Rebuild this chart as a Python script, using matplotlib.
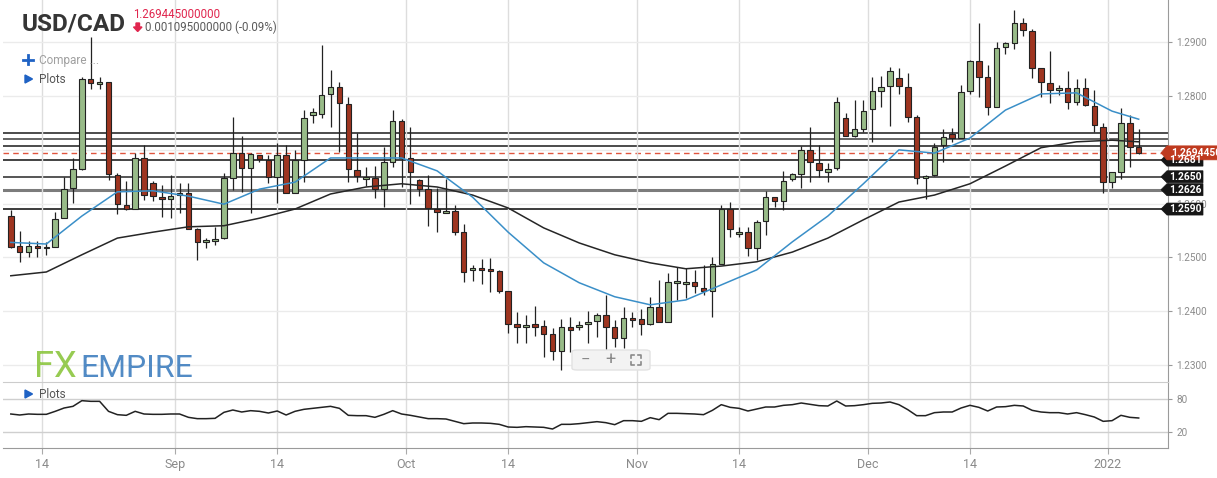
"""USD/CAD daily candles with moving averages, key levels and an RSI pane."""
import numpy as np
import pandas as pd
import matplotlib
matplotlib.use("Agg")
from matplotlib import pyplot as plt
from matplotlib import transforms
from matplotlib.patches import Polygon, FancyBboxPatch
from matplotlib.lines import Line2D

# ---------------------------------------------------------------- data
# daily bars (Sun-Fri feed), 2021-08-10 .. 2022-01-05
opens = [1.2577, 1.2521, 1.2510, 1.2521, 1.2517, 1.2519, 1.2573, 1.2629, 1.2664, 1.2832,
         1.2822, 1.2826, 1.2653, 1.2598, 1.2590, 1.2685, 1.2638, 1.2612, 1.2609, 1.2616,
         1.2620, 1.2553, 1.2529, 1.2530, 1.2536, 1.2648, 1.2694, 1.2666, 1.2690, 1.2681,
         1.2650, 1.2691, 1.2620, 1.2681, 1.2765, 1.2767, 1.2804, 1.2817, 1.2785, 1.2662,
         1.2646, 1.2648, 1.2627, 1.2677, 1.2754, 1.2685, 1.2644, 1.2627, 1.2590, 1.2583,
         1.2587, 1.2547, 1.2476, 1.2480, 1.2479, 1.2475, 1.2437, 1.2377, 1.2371, 1.2376,
         1.2372, 1.2357, 1.2326, 1.2371, 1.2370, 1.2376, 1.2382, 1.2393, 1.2371, 1.2350,
         1.2388, 1.2386, 1.2376, 1.2407, 1.2380, 1.2452, 1.2451, 1.2455, 1.2443, 1.2438,
         1.2488, 1.2590, 1.2544, 1.2547, 1.2517, 1.2567, 1.2612, 1.2605, 1.2646, 1.2655,
         1.2700, 1.2676, 1.2659, 1.2666, 1.2759, 1.2726, 1.2739, 1.2776, 1.2809, 1.2819,
         1.2834, 1.2817, 1.2761, 1.2647, 1.2653, 1.2709, 1.2729, 1.2722, 1.2809, 1.2865,
         1.2836, 1.2780, 1.2891, 1.2898, 1.2935, 1.2921, 1.2852, 1.2824, 1.2811, 1.2815,
         1.2789, 1.2815, 1.2781, 1.2742, 1.2640, 1.2659, 1.2750, 1.2705]
highs = [1.2588, 1.2549, 1.2530, 1.2530, 1.2528, 1.2584, 1.2650, 1.2685, 1.2835, 1.2910,
         1.2835, 1.2826, 1.2657, 1.2642, 1.2694, 1.2709, 1.2642, 1.2635, 1.2653, 1.2638,
         1.2638, 1.2555, 1.2536, 1.2556, 1.2657, 1.2761, 1.2726, 1.2694, 1.2690, 1.2691,
         1.2713, 1.2709, 1.2700, 1.2774, 1.2778, 1.2895, 1.2849, 1.2826, 1.2798, 1.2731,
         1.2668, 1.2670, 1.2705, 1.2774, 1.2757, 1.2742, 1.2646, 1.2653, 1.2629, 1.2646,
         1.2598, 1.2562, 1.2486, 1.2497, 1.2499, 1.2477, 1.2437, 1.2398, 1.2393, 1.2410,
         1.2384, 1.2368, 1.2386, 1.2389, 1.2381, 1.2400, 1.2396, 1.2430, 1.2384, 1.2408,
         1.2399, 1.2404, 1.2426, 1.2458, 1.2471, 1.2482, 1.2480, 1.2476, 1.2486, 1.2501,
         1.2597, 1.2603, 1.2556, 1.2556, 1.2569, 1.2624, 1.2612, 1.2661, 1.2657, 1.2707,
         1.2742, 1.2709, 1.2676, 1.2798, 1.2768, 1.2793, 1.2793, 1.2835, 1.2837, 1.2854,
         1.2852, 1.2843, 1.2765, 1.2653, 1.2713, 1.2739, 1.2741, 1.2820, 1.2867, 1.2936,
         1.2858, 1.2900, 1.2900, 1.2960, 1.2945, 1.2925, 1.2852, 1.2884, 1.2820, 1.2846,
         1.2831, 1.2833, 1.2811, 1.2750, 1.2659, 1.2778, 1.2765, 1.2739]
lows = [1.2517, 1.2492, 1.2501, 1.2501, 1.2505, 1.2519, 1.2573, 1.2601, 1.2662, 1.2813,
        1.2813, 1.2644, 1.2581, 1.2588, 1.2590, 1.2607, 1.2605, 1.2575, 1.2573, 1.2582,
        1.2553, 1.2495, 1.2517, 1.2523, 1.2534, 1.2626, 1.2622, 1.2583, 1.2678, 1.2639,
        1.2601, 1.2620, 1.2620, 1.2640, 1.2750, 1.2759, 1.2743, 1.2696, 1.2640, 1.2640,
        1.2633, 1.2610, 1.2594, 1.2668, 1.2631, 1.2600, 1.2614, 1.2559, 1.2547, 1.2583,
        1.2542, 1.2455, 1.2456, 1.2451, 1.2436, 1.2434, 1.2359, 1.2341, 1.2341, 1.2354,
        1.2315, 1.2309, 1.2291, 1.2324, 1.2365, 1.2341, 1.2352, 1.2326, 1.2334, 1.2332,
        1.2371, 1.2356, 1.2374, 1.2380, 1.2380, 1.2421, 1.2425, 1.2434, 1.2430, 1.2390,
        1.2488, 1.2538, 1.2538, 1.2502, 1.2495, 1.2542, 1.2594, 1.2588, 1.2642, 1.2629,
        1.2640, 1.2650, 1.2640, 1.2663, 1.2726, 1.2724, 1.2733, 1.2715, 1.2780, 1.2744,
        1.2804, 1.2752, 1.2636, 1.2609, 1.2651, 1.2678, 1.2715, 1.2722, 1.2804, 1.2798,
        1.2765, 1.2780, 1.2878, 1.2888, 1.2912, 1.2834, 1.2798, 1.2787, 1.2802, 1.2776,
        1.2783, 1.2781, 1.2733, 1.2620, 1.2629, 1.2646, 1.2668, 1.2692]
closes = [1.2519, 1.2510, 1.2521, 1.2517, 1.2519, 1.2571, 1.2627, 1.2664, 1.2832, 1.2824,
          1.2826, 1.2655, 1.2599, 1.2590, 1.2685, 1.2616, 1.2614, 1.2609, 1.2614, 1.2620,
          1.2553, 1.2529, 1.2533, 1.2534, 1.2647, 1.2694, 1.2666, 1.2692, 1.2683, 1.2650,
          1.2691, 1.2620, 1.2681, 1.2759, 1.2770, 1.2802, 1.2817, 1.2787, 1.2664, 1.2651,
          1.2650, 1.2627, 1.2677, 1.2754, 1.2685, 1.2659, 1.2627, 1.2592, 1.2584, 1.2587,
          1.2547, 1.2473, 1.2480, 1.2476, 1.2475, 1.2437, 1.2377, 1.2370, 1.2375, 1.2371,
          1.2357, 1.2326, 1.2371, 1.2366, 1.2374, 1.2380, 1.2393, 1.2371, 1.2350, 1.2387,
          1.2383, 1.2376, 1.2407, 1.2380, 1.2454, 1.2456, 1.2455, 1.2447, 1.2438, 1.2488,
          1.2590, 1.2553, 1.2548, 1.2517, 1.2565, 1.2612, 1.2605, 1.2642, 1.2655, 1.2700,
          1.2678, 1.2663, 1.2664, 1.2789, 1.2726, 1.2739, 1.2772, 1.2809, 1.2817, 1.2846,
          1.2819, 1.2761, 1.2647, 1.2651, 1.2706, 1.2724, 1.2722, 1.2807, 1.2865, 1.2836,
          1.2780, 1.2889, 1.2898, 1.2935, 1.2923, 1.2852, 1.2826, 1.2811, 1.2815, 1.2789,
          1.2815, 1.2783, 1.2746, 1.2640, 1.2659, 1.2750, 1.2705, 1.2694]

# moving averages read every 4th bar (plus the last bar)
ma_fast = [1.2528, 1.2525, 1.2577, 1.2622, 1.2624, 1.2614, 1.2599, 1.2627, 1.2640, 1.2685,
           1.2685, 1.2685, 1.2661, 1.2612, 1.2547, 1.2490, 1.2453, 1.2427, 1.2412, 1.2421,
           1.2449, 1.2477, 1.2529, 1.2577, 1.2637, 1.2700, 1.2694, 1.2722, 1.2774, 1.2804,
           1.2806, 1.2772, 1.2757]
ma_slow = [1.2466, 1.2473, 1.2505, 1.2536, 1.2547, 1.2557, 1.2559, 1.2573, 1.2590, 1.2618,
           1.2631, 1.2637, 1.2631, 1.2616, 1.2592, 1.2555, 1.2527, 1.2505, 1.2490, 1.2479,
           1.2484, 1.2492, 1.2510, 1.2536, 1.2570, 1.2603, 1.2616, 1.2637, 1.2670, 1.2704,
           1.2715, 1.2718, 1.2715]

rsi = [52.4, 50.6, 52.4, 51.8, 51.8, 57.2, 63.2, 66.2,
       76.4, 75.2, 75.2, 57.2, 51.2, 50.0, 57.2, 52.4, 51.8, 51.8, 52.4, 52.4, 46.4, 44.0,
       44.0, 44.6, 55.4, 59.6, 56.0, 58.4, 57.2, 54.2, 57.8, 50.6, 57.2,
       60.8, 62.6, 64.4, 66.2, 62.6, 50.0, 49.4, 49.4, 46.4, 51.8, 58.4, 52.4, 50.0, 47.0,
       44.0, 44.0, 43.4, 39.2, 35.0, 36.2, 36.2, 35.6, 33.8, 29.0, 28.4, 29.6, 29.0, 28.4,
       25.4, 33.8, 33.8, 35.0, 36.8, 38.6,
       36.8, 33.2, 40.4, 40.4, 39.2, 45.8, 42.2, 53.6, 53.6, 53.0, 52.4, 51.2, 59.0, 69.2,
       64.4, 62.6, 57.8, 61.4, 65.0, 65.0, 68.0, 69.2, 72.2, 69.8, 67.4, 66.8, 75.8, 66.8,
       67.4, 69.2, 71.6, 72.2, 74.0, 69.2,
       60.2, 49.4, 49.4, 54.8, 56.0, 56.0, 63.2, 68.0, 64.4, 57.8, 65.0, 65.6, 68.0, 66.8,
       59.0, 56.0, 54.8, 54.8, 52.4, 54.8, 51.2, 47.0, 39.2, 40.4, 50.0, 46.4, 45.2]

levels = [1.2731, 1.2720, 1.2708, 1.2681, 1.2650, 1.2626, 1.2590]
tagged_levels = [1.2681, 1.2650, 1.2626, 1.2590]
last_price = 1.269445
price_ticks = [1.23, 1.24, 1.25, 1.26, 1.27, 1.28, 1.29]
rsi_ticks = [20, 80]
tick_dates = ["2021-08-14", "2021-09-01", "2021-09-14", "2021-10-01", "2021-10-14",
              "2021-11-01", "2021-11-14", "2021-12-01", "2021-12-14", "2022-01-01"]
tick_labels = ["14", "Sep", "14", "Oct", "14", "Nov", "14", "Dec", "14", "2022"]

# ---------------------------------------------------------------- style
W, H = 1217, 478
GREEN = "#98bb88"
RED = "#9e3520"
EDGE = "#222222"
LEVEL_STYLE = [("#2e2e2e", 1.2), ("#4a4a4a", 1.2), ("#2e2e2e", 1.2), ("#222222", 1.2),
               ("#555555", 1.4), ("#7c7c7c", 2.2), ("#1a1a1a", 1.2)]
plt.rcParams["font.family"] = ["Roboto", "DejaVu Sans"]


def fx(px):
    return px / W


def fy(py):
    return 1 - py / H


def tick_position(bar_dates, day):
    """Month starts sit between bars, other dates on their bar."""
    if day in bar_dates:
        i = bar_dates.get_loc(day)
        return i - 0.5 if day.day == 1 else i
    return bar_dates.searchsorted(day) - 0.5


bar_dates = pd.date_range("2021-08-10", "2022-01-05")
bar_dates = bar_dates[bar_dates.dayofweek != 5]
x = np.arange(len(bar_dates))
ma_x = np.r_[np.arange(0, len(x), 4), len(x) - 1]
xticks = [tick_position(bar_dates, pd.Timestamp(d)) for d in tick_dates]

fig = plt.figure(figsize=(W / 100, H / 100), dpi=100)
ax = fig.add_axes([fx(3), fy(382), (1168 - 3) / W, 382 / H])
ax_rsi = fig.add_axes([fx(3), fy(448), (1168 - 3) / W, 66 / H])
xlim = (-0.88, 130.3)
ylim = (1.22685, 1.29786)

# ---- price pane
ax.set_xlim(*xlim)
ax.set_ylim(*ylim)
ax.set_xticks(xticks)
ax.set_yticks(price_ticks)
ax.set_yticklabels([f"{p:.4f}" for p in price_ticks])
ax.yaxis.tick_right()
ax.tick_params(axis="x", length=0, labelbottom=False)
ax.tick_params(axis="y", length=3, color="#999999", labelcolor="#8c8c8c", labelsize=7.2, pad=3)
ax.grid(axis="y", color="#ebebeb", lw=1, zorder=0)
ax.grid(axis="x", color="#dddddd", lw=1, zorder=0)
for side in ("left", "top", "bottom"):
    ax.spines[side].set_visible(False)
ax.spines["right"].set_color("#9a9a9a")

for lvl, (col, lw) in zip(levels, LEVEL_STYLE):
    ax.axhline(lvl, color=col, lw=lw, zorder=1)
ax.axhline(last_price, color="#e0553e", lw=1, ls=(0, (4, 3)), zorder=1)

o, h, l, c = (np.array(v) for v in (opens, highs, lows, closes))
up = c >= o
ax.vlines(x, l, h, color=EDGE, lw=0.9, zorder=3)
ax.bar(x, np.abs(c - o), bottom=np.minimum(o, c), width=0.62,
       color=np.where(up, GREEN, RED), edgecolor=EDGE, linewidth=0.8, zorder=4)

ax.plot(ma_x, ma_slow, color="#262626", lw=1.1, zorder=5)
ax.plot(ma_x, ma_fast, color="#3a8fc8", lw=1.1, zorder=5)

# ---- RSI pane
ax_rsi.set_xlim(*xlim)
ax_rsi.set_ylim(-8.8, 110)
ax_rsi.plot(x, rsi, color="#222222", lw=1.1)
ax_rsi.set_xticks(xticks)
ax_rsi.set_xticklabels(tick_labels)
ax_rsi.set_yticks(rsi_ticks)
ax_rsi.yaxis.tick_right()
ax_rsi.tick_params(axis="y", length=3, color="#999999", labelcolor="#8c8c8c", labelsize=7.2, pad=3)
ax_rsi.tick_params(axis="x", length=4, color="#aaaaaa", labelcolor="#8a8a8a", labelsize=9, pad=3)
ax_rsi.grid(axis="y", color="#cfcfcf", lw=1)
ax_rsi.grid(axis="x", color="#dddddd", lw=1)
ax_rsi.spines["left"].set_visible(False)
ax_rsi.spines["top"].set_color("#cccccc")
ax_rsi.spines["right"].set_color("#9a9a9a")
ax_rsi.spines["bottom"].set_color("#9a9a9a")

# ---- price tags on the right
trans = transforms.blended_transform_factory(fig.transFigure, ax.transData)
dy = (ylim[1] - ylim[0]) / 382


def price_tag(price, text, color, right, half, text_x, ha):
    pts = [(fx(1161), price), (fx(1167), price - half * dy), (fx(right), price - half * dy),
           (fx(right), price + half * dy), (fx(1167), price + half * dy)]
    fig.add_artist(Polygon(pts, closed=True, transform=trans, facecolor=color,
                           edgecolor=color, lw=0.5, zorder=10))
    fig.text(fx(text_x), price, text, transform=trans, color="white", fontsize=7.4,
             fontweight="bold", ha=ha, va="center", zorder=11)


for lvl in tagged_levels:
    price_tag(lvl, f"{lvl:.4f}", "#161616", 1203, 6, 1185, "center")
price_tag(last_price, f"{last_price:.7f}", "#bf3a1f", 1220, 7, 1171, "left")

# ---- header
fig.text(fx(22), fy(31), "USD/CAD", fontsize=17.6, fontweight="bold", color="#353535")
fig.text(fx(133), fy(18.5), "1.269445000000", fontsize=8.3, color="#e0264e")
fig.add_artist(Polygon([(fx(136), fy(23)), (fx(139.5), fy(23)), (fx(139.5), fy(27)),
                        (fx(142), fy(27)), (fx(137.7), fy(31.5)), (fx(133.5), fy(27)),
                        (fx(136), fy(27))], closed=True, transform=fig.transFigure,
                       color="#e0264e", zorder=5))
fig.text(fx(145), fy(31), "0.001095000000 (-0.09%)", fontsize=8.3, color="#5a5a5a")

blue = "#1f62c4"
fig.add_artist(Line2D([fx(23), fx(33)], [fy(59.5), fy(59.5)], color=blue, lw=2))
fig.add_artist(Line2D([fx(28), fx(28)], [fy(55), fy(64)], color=blue, lw=2))
fig.text(fx(39), fy(64), "Compare ...", fontsize=8.5, color="#a0a0a0")
for top, base in ((75, 83), (390, 398)):
    fig.add_artist(Polygon([(fx(25), fy(top)), (fx(25), fy(top + 8)), (fx(32.5), fy(top + 4))],
                           closed=True, transform=fig.transFigure, color=blue, zorder=5))
    fig.text(fx(39), fy(base), "Plots", fontsize=8.5, color="#555555")

# ---- watermark logo
fig.text(fx(34), fy(377), "FX", fontsize=26, color="#8cc63f", alpha=0.9)
fig.text(fx(80), fy(377), "EMPIRE", fontsize=23, color="#3f7fbf", alpha=0.9)

# ---- zoom controls
fig.add_artist(FancyBboxPatch((fx(572), fy(370)), fx(650) - fx(572), fy(350) - fy(370),
                              boxstyle="round,pad=0,rounding_size=0.004",
                              transform=fig.transFigure, facecolor="#f3f3f3",
                              edgecolor="#e2e2e2", lw=1, zorder=6))
fig.text(fx(585), fy(360), "\u2212", fontsize=12, color="#8a8a8a", ha="center", va="center", zorder=7)
fig.text(fx(610), fy(360), "+", fontsize=13, color="#8a8a8a", ha="center", va="center", zorder=7)
for cx, cy, sx, sy in ((631, 355, 1, 1), (641, 355, -1, 1), (631, 365, 1, -1), (641, 365, -1, -1)):
    fig.add_artist(Line2D([fx(cx), fx(cx), fx(cx + 3 * sx)], [fy(cy + 3 * sy), fy(cy), fy(cy)],
                          color="#8a8a8a", lw=1.2, zorder=7))

fig.savefig("out.png", dpi=100)
